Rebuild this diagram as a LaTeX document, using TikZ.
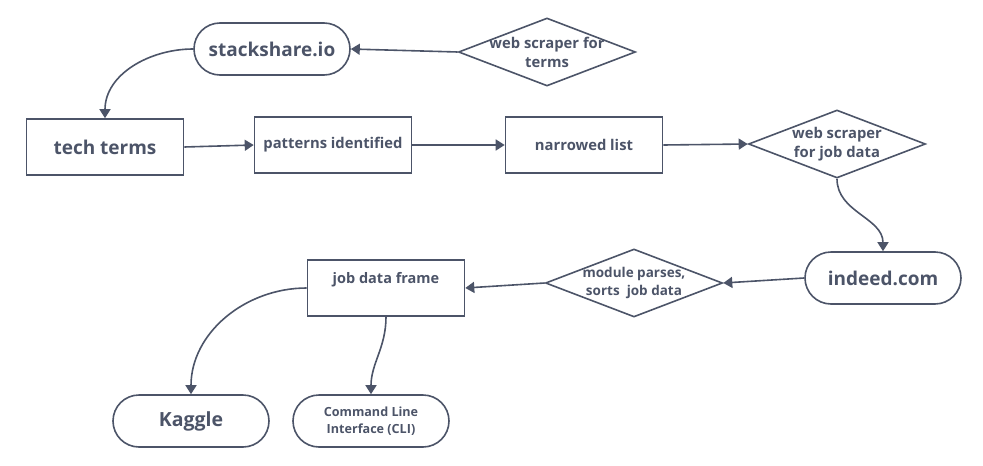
\documentclass[tikz,border=0pt]{standalone}
\usepackage{fontspec}
\setmainfont{Open Sans}
\usetikzlibrary{shapes.geometric,arrows.meta}
\definecolor{slate}{RGB}{76,84,104}

\begin{document}
\begin{tikzpicture}[x=1pt,y=-1pt,line width=1.6pt,draw=slate,text=slate,font=\bfseries,
  pill/.style={draw,rounded corners=26pt,minimum width=156pt,minimum height=52pt,inner sep=0pt},
  box/.style={draw,minimum width=157pt,minimum height=56pt,inner sep=0pt},
  dia/.style={draw,diamond,aspect=2.6,minimum width=177pt,minimum height=68pt,inner sep=0pt},
  flow/.style={slate,-{Triangle[length=9pt,width=11pt]}}]
\useasboundingbox (0,0) rectangle (983,466);
% top row
\node[pill,font=\bfseries\fontsize{19}{21}\selectfont] (stack) at (272,49) {stackshare.io};
\node[dia] (scrterms) at (547,52) {};
\node[align=center,font=\bfseries\fontsize{14.8}{19}\selectfont] at (scrterms) {web scraper for\\terms};
\node[box,font=\bfseries\fontsize{19}{21}\selectfont] (tech) at (105,147) {tech terms};
\node[box,font=\bfseries\fontsize{14.8}{17}\selectfont] (pat) at (333,145) {patterns identified};
\node[box,font=\bfseries\fontsize{14.8}{17}\selectfont] (narrow) at (584,145) {narrowed list};
\node[dia] (scrjobs) at (837,144) {};
\node[align=center,font=\bfseries\fontsize{14.8}{19}\selectfont] at (scrjobs) {web scraper\\for job data};
% bottom rows
\node[pill,font=\bfseries\fontsize{19}{21}\selectfont] (indeed) at (883,278) {indeed.com};
\node[dia] (parse) at (634,283) {};
\node[align=center,font=\bfseries\fontsize{13.5}{18}\selectfont] at (parse) {module parses,\\sorts\ \ job data};
\node[box] (frame) at (386,288) {};
\node[font=\bfseries\fontsize{14.5}{16}\selectfont] at (386,280) {job data frame};
\node[pill,font=\bfseries\fontsize{19.5}{21}\selectfont] (kaggle) at (191,421) {Kaggle};
\node[pill,align=center,font=\bfseries\fontsize{12.6}{17}\selectfont] (cli) at (371,421) {Command Line\\Interface (CLI)};
% connectors
\draw[flow] (scrterms.west) -- (stack.east);
\draw[flow] (stack.west) to[out=180,in=90] (tech.north);
\draw[flow] (tech.east) -- (pat.west);
\draw[flow] (pat.east) -- (narrow.west);
\draw[flow] (narrow.east) -- (scrjobs.west);
\draw[flow] (scrjobs.south) to[out=-90,in=90] (indeed.north);
\draw[flow] (indeed.west) -- (parse.east);
\draw[flow] (parse.west) -- (frame.east);
\draw[flow] (frame.west) to[out=180,in=90] (kaggle.north);
\draw[flow] (frame.south) to[out=-90,in=90] (cli.north);
\end{tikzpicture}
\end{document}
